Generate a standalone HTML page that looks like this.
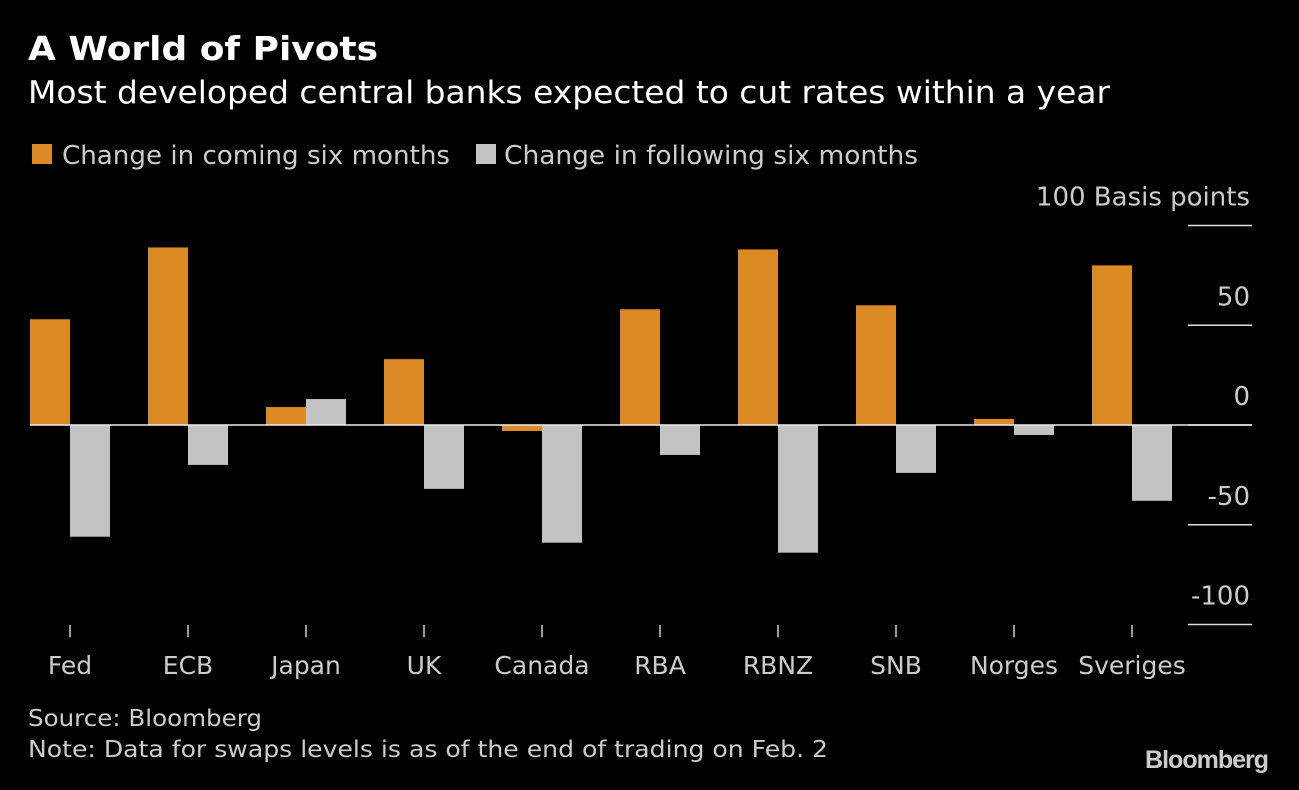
<!DOCTYPE html>
<html><head><meta charset="utf-8"><style>
body{margin:0;background:#000;width:1299px;height:786px;overflow:hidden;font-family:"DejaVu Sans",sans-serif;color:#fff}
</style></head><body>
<svg width="1299" height="786" font-family="DejaVu Sans, sans-serif">
<text x="28" y="60" font-size="33" font-weight="bold" fill="#fff" textLength="350" lengthAdjust="spacingAndGlyphs">A World of Pivots</text>
<text x="28" y="103" font-size="31" fill="#fff" textLength="1082" lengthAdjust="spacingAndGlyphs">Most developed central banks expected to cut rates within a year</text>
<rect x="32" y="144" width="20" height="20" fill="#dc8a26"/>
<text x="62" y="164" font-size="26" fill="#ccc" textLength="388" lengthAdjust="spacingAndGlyphs">Change in coming six months</text>
<rect x="476" y="144" width="20" height="20" fill="#c3c3c3"/>
<text x="504" y="164" font-size="26" fill="#ccc" textLength="414" lengthAdjust="spacingAndGlyphs">Change in following six months</text>
<g id="axis"></g><g id="bars"></g>
<text x="28" y="726" font-size="23" fill="#ccc" textLength="234" lengthAdjust="spacingAndGlyphs">Source: Bloomberg</text>
<text x="28" y="757" font-size="23" fill="#ccc" textLength="800" lengthAdjust="spacingAndGlyphs">Note: Data for swaps levels is as of the end of trading on Feb. 2</text>
<text x="1268" y="768" font-family="Liberation Sans, sans-serif" font-size="25" font-weight="bold" fill="#ccc" text-anchor="end" letter-spacing="-1">Bloomberg</text>
</svg>
<script>
const categories=["Fed","ECB","Japan","UK","Canada","RBA","RBNZ","SNB","Norges","Sveriges"];
const coming=[53,89,9,33,-3,58,88,60,3,80];
const following=[-56,-20,13,-32,-59,-15,-64,-24,-5,-38];
const ticks=[100,50,0,-50,-100];
const tickLabels=["100 Basis points","50","0","-50","-100"];
const NS="http://www.w3.org/2000/svg";
const y=v=>425-v*1.995;
const x=i=>70+i*118;
function mk(t,a,p){const e=document.createElementNS(NS,t);for(const k in a)e.setAttribute(k,a[k]);p.appendChild(e);return e;}
const ax=document.getElementById('axis'),bs=document.getElementById('bars');
ticks.forEach((t,i)=>{
 const l=mk('line',{x1:1188,x2:1252,y1:y(t),y2:y(t),stroke:'#ddd','stroke-width':1.5},ax);
 
 
 const tx=mk('text',{x:1250,y:y(t)-20,'font-size':26,fill:'#ccc','text-anchor':'end'},ax);
 tx.textContent=tickLabels[i];
 
 
});
categories.forEach((c,i)=>{
 const tk=mk('line',{x1:x(i),x2:x(i),y1:625,y2:637,stroke:'#ccc','stroke-width':1.5},ax);
 
 
 const t=mk('text',{x:x(i),y:674,'font-size':25,fill:'#ccc','text-anchor':'middle'},ax);
 t.textContent=c;
 
 
 const a=coming[i],b=following[i];
 const r1=mk('rect',{x:x(i)-40,width:40,y:Math.min(y(a),y(0)),height:Math.abs(y(a)-y(0)),fill:'#dc8a26'},bs);
 
 
 const r2=mk('rect',{x:x(i),width:40,y:Math.min(y(b),y(0)),height:Math.abs(y(b)-y(0)),fill:'#c3c3c3'},bs);
 
 
});
const z=mk('line',{x1:30,x2:1252,y1:y(0),y2:y(0),stroke:'#eee','stroke-width':1.5},bs);


</script>
</body></html>
